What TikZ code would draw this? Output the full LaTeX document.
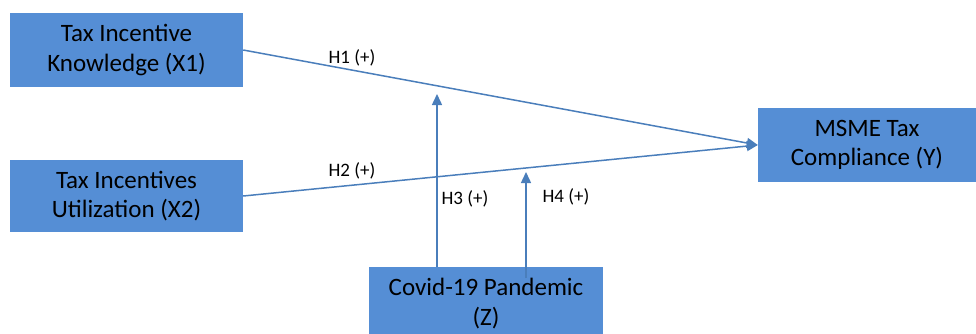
\documentclass[tikz,border=0pt]{standalone}
\usepackage{fontspec}
\setmainfont{Carlito}
\usetikzlibrary{arrows.meta}
\definecolor{boxblue}{HTML}{558ED5}
\definecolor{linkblue}{HTML}{4A7EBB}
\begin{document}
\begin{tikzpicture}[x=1pt,y=-1pt,
  varbox/.style={rectangle, fill=boxblue, draw=none, inner sep=0pt,
    align=center, font=\fontsize{25}{29.5}\selectfont, text=black},
  link/.style={draw=linkblue, line width=1.5pt,
    -{Triangle[length=11pt,width=10pt]}},
  hyp/.style={font=\fontsize{19}{22}\selectfont, inner sep=0pt}]
  \useasboundingbox (0,0) rectangle (976,333);
  \begin{scope}
    \clip (0,0) rectangle (976,333);
    \node[varbox, minimum width=233pt, minimum height=74pt] (x1) at (126.5,50)
      {Tax Incentive\\Knowledge (X1)};
    \node[varbox, minimum width=233pt, minimum height=72pt] (x2) at (126.5,196)
      {Tax Incentives\\Utilization (X2)};
    \node[varbox, minimum width=218pt, minimum height=74pt] (y) at (867,145)
      {MSME Tax\\Compliance (Y)};
    \node[varbox, minimum width=234pt, minimum height=73pt] (z) at (486,303.5)
      {Covid-19 Pandemic\\(Z)};
  \end{scope}
  % moderation arrow ends
  \coordinate (h3top) at (437,94);
  \coordinate (h4top) at (526,172);
  \coordinate (h4bot) at (526,278);
  % direct paths
  \draw[link] (x1.east) -- (y.west);
  \draw[link] (x2.east) -- (y.west);
  % moderating paths
  \draw[link] (z.north -| h3top) -- (h3top);
  \draw[link] (h4bot) -- (h4top);
  % hypothesis labels
  \node[hyp] (h1) at (352,58) {H1 (+)};
  \node[hyp] (h2) at (352,171) {H2 (+)};
  \node[hyp] (h3) at (465,199) {H3 (+)};
  \node[hyp] (h4) at (566,197) {H4 (+)};
\end{tikzpicture}
\end{document}
